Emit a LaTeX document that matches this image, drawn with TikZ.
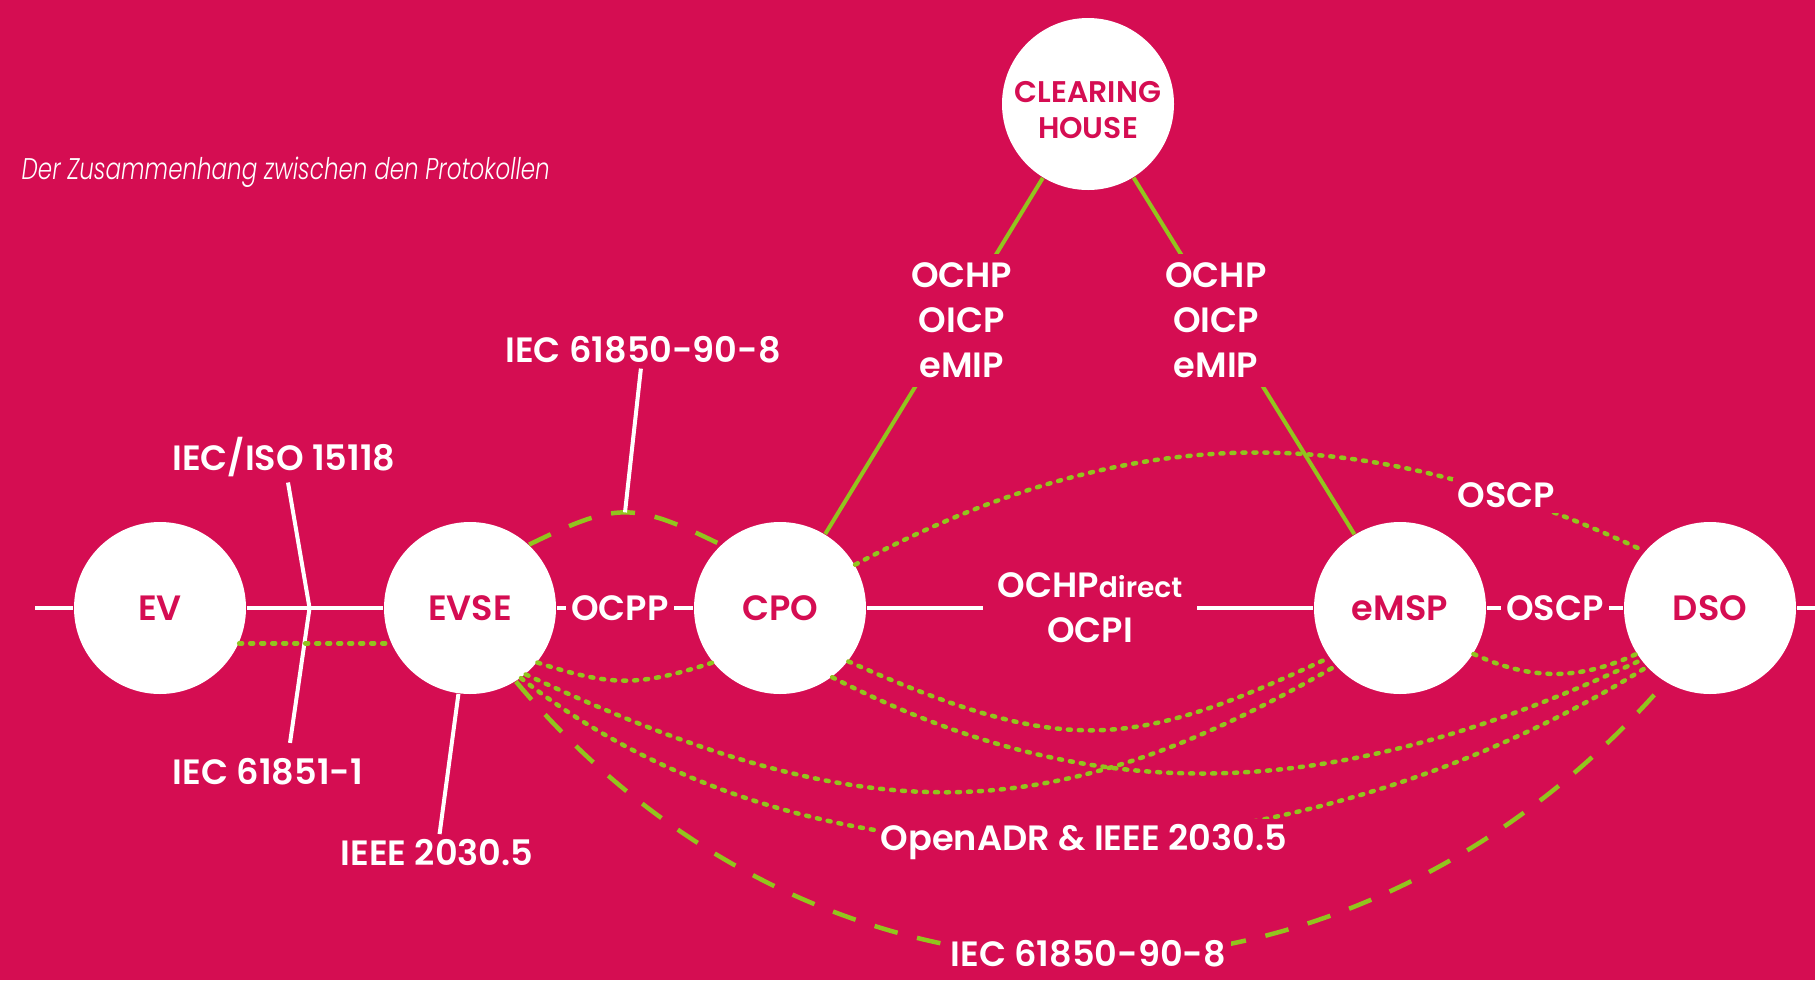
\documentclass[tikz,border=0pt]{standalone}
\usepackage{fontspec}
\setmainfont{Poppins}[BoldFont={Poppins SemiBold},ItalicFont={Poppins Light Italic}]
\newfontfamily\titlefont{Poppins Light Italic}[FakeStretch=0.77]
\usetikzlibrary{positioning}

\definecolor{bg}{RGB}{213,13,82}
\definecolor{lime}{RGB}{146,196,30}

\begin{document}
\begin{tikzpicture}[node distance=3.1cm,on grid,
  hub/.style={circle,fill=white,text=bg,minimum size=1.72cm,inner sep=0pt,font=\bfseries\fontsize{10}{12}\selectfont},
  proto/.style={fill=bg,text=white,inner sep=0.05cm,align=center,font=\bfseries\fontsize{10}{12.8}\selectfont},
  wire/.style={white,line width=0.04cm},
  greenline/.style={lime,line width=0.04cm},
  dotline/.style={lime,line width=0.045cm,line cap=round,dash pattern=on 0.03cm off 0.08cm},
  dashline/.style={lime,line width=0.045cm,dash pattern=on 0.24cm off 0.2cm}]

\path[fill=bg,use as bounding box] (0,0) rectangle (18.15,9.8);

\node[anchor=base west,text=white,inner sep=0pt,font=\titlefont\fontsize{8.5}{10}\selectfont] (title) at (0.21,8.01) {Der Zusammenhang zwischen den Protokollen};

\node[hub] (EV) at (1.6,3.72) {EV};
\node[hub] (EVSE) [right=of EV] {EVSE};
\node[hub] (CPO) [right=of EVSE] {CPO};
\node[hub] (eMSP) [right=6.2cm of CPO] {eMSP};
\node[hub] (DSO) [right=of eMSP] {DSO};
\node[hub,label={[yshift=-0.06cm,align=center,text=bg,font=\bfseries\fontsize{8.5}{10}\selectfont]center:{CLEARING\\HOUSE}}] (CH) [above right=5.04cm and 3.08cm of CPO] {};

\node[proto] (ocpp) [right=1.5cm of EVSE] {OCPP};
\node[proto,inner xsep=0.14cm] (ochp) [right=3.1cm of CPO] {OCHP{\fontsize{8}{9}\selectfont direct}\\OCPI};
\node[proto] (oscp) [right=1.55cm of eMSP] {OSCP};
\node[proto] (iso) [above left=1.51cm and 1.86cm of EVSE] {IEC/ISO 15118};
\node[proto] (iec51) [below left=1.64cm and 2.02cm of EVSE] {IEC 61851-1};
\node[proto] (ieee) [below left=2.45cm and 0.33cm of EVSE] {IEEE 2030.5};
\node[proto] (iec908) [above right=2.585cm and 1.73cm of EVSE] {IEC 61850-90-8};

% main line
\coordinate (lstub) at (0.35,3.72);
\coordinate (rstub) at (18.15,3.72);
\draw[wire] (lstub) -- (EV) -- coordinate[pos=0.46] (jn) (EVSE) -- (ocpp) -- (CPO) -- (ochp) -- (eMSP) -- (oscp) -- (DSO) -- (rstub);
\draw[wire] ([xshift=0.04cm]iso.south) -- (jn) -- ([xshift=0.22cm,yshift=0.1cm]iec51.north);
\draw[wire] (EVSE) -- (ieee);

% clearing house
\draw[greenline] (CH) -- node[proto,pos=0.4,xshift=0.06cm,inner sep=0.09cm] (chcpo) {OCHP\\OICP\\eMIP} (CPO);
\draw[greenline] (CH) -- node[proto,pos=0.4,xshift=-0.06cm,inner sep=0.09cm] (chemsp) {OCHP\\OICP\\eMIP} (eMSP);

% protocols
\draw[dotline] (EV.-24) -- (EVSE.-156);
\draw[dashline] (EVSE.47) to[out=26,in=154,distance=0.98cm] coordinate[pos=0.5] (apex) (CPO.133);
\draw[wire] (iec908) -- (apex);
\draw[dotline] (EVSE.-39) to[out=-18,in=-162,distance=0.78cm] (CPO.-141);
\draw[dotline] (EVSE.-50) to[out=-25,in=-150,out distance=3.69cm,in distance=3.39cm] (eMSP.-138);
\draw[dotline] (EVSE.-54) to[out=-38,in=-148,out distance=4.08cm,in distance=3.79cm] node[proto,pos=0.5] (adr) {OpenADR \& IEEE 2030.5} (DSO.-137);
\draw[dashline] (EVSE.-58) to[out=-50,in=-131,out distance=4.85cm,in distance=4.85cm] node[proto,pos=0.5,yshift=0.05cm] (iecbot) {IEC 61850-90-8} (DSO.-121);
\draw[dotline] (CPO.-38) to[out=-24,in=-155,out distance=2.39cm,in distance=2.16cm] (eMSP.-145);
\draw[dotline] (CPO.-53) to[out=-27,in=-155,out distance=2.9cm,in distance=3.49cm] (DSO.-143);
\draw[dotline] (CPO.30) to[out=28,in=155,out distance=3.4cm,in distance=2.87cm] node[proto,pos=0.82] (oscptop) {OSCP} (DSO.139);
\draw[dotline] (eMSP.-32) to[out=-25,in=-155,distance=0.63cm] (DSO.-148);
\end{tikzpicture}
\end{document}
